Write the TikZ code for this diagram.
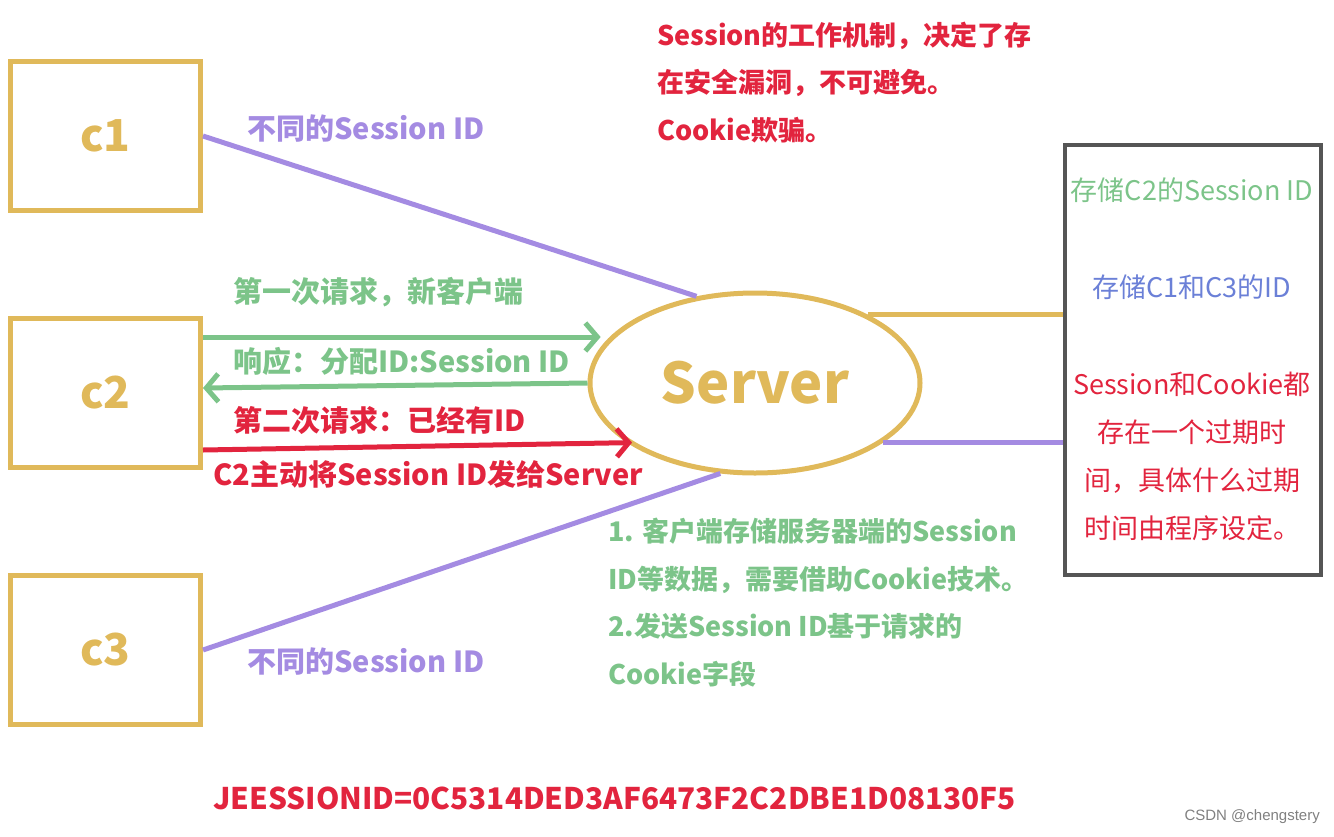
\documentclass[tikz,border=0pt]{standalone}
\usepackage{fontspec}
\setmainfont{Noto Sans CJK SC}
\newfontfamily\wmfont{Liberation Sans}
\usetikzlibrary{arrows.meta,shapes.geometric}
\definecolor{gold}{HTML}{E0B95A}
\definecolor{lilac}{HTML}{A48BE2}
\definecolor{leaf}{HTML}{7CC489}
\definecolor{crimson}{HTML}{E2243E}
\definecolor{steel}{HTML}{6B80D7}
\definecolor{frame}{HTML}{555555}

\begin{document}
\begin{tikzpicture}[x=1pt, y=-1pt,
  client/.style={rectangle, draw=gold, line width=5pt, minimum width=190pt, minimum height=149pt,
                 inner sep=0pt, text=gold, font=\fontsize{44}{50}\selectfont\bfseries},
  server/.style={ellipse, draw=gold, line width=5pt, minimum width=330pt, minimum height=180pt,
                 inner sep=0pt, text=gold, font=\fontsize{56}{64}\selectfont\bfseries},
  store/.style={rectangle, draw=frame, line width=4pt, minimum width=256pt, minimum height=430pt, inner sep=0pt},
  link/.style={line width=5pt},
  arrow/.style={line width=5pt, -{Straight Barb[length=12pt,width=28pt]}},
  label/.style={anchor=west, inner sep=0pt, font=\fontsize{29}{40}\selectfont\bfseries},
  block/.style={anchor=west, inner sep=0pt, align=left, font=\fontsize{27}{47.5}\selectfont\bfseries},
  note/.style={inner sep=0pt, align=center, font=\fontsize{27}{48}\selectfont},
]
  \useasboundingbox (0,0) rectangle (1334,836);

  \node[client] (c1) at (105.5,136) {c1};
  \node[client] (c2) at (105.5,393) {c2};
  \node[client] (c3) at (105.5,650) {c3};
  \node[server] (srv) at (755,383) {Server};
  \node[store] (store) at (1193,360) {};

  \draw[link, lilac] (c1.east) -- (srv.124);
  \draw[link, lilac] (c3.east) -- (srv.249);
  \draw[link, gold] (srv.31) -- (srv.31 -| store.west);
  \draw[link, lilac] (srv.-25) -- (srv.-25 -| store.west);

  \draw[arrow, leaf, shorten >=10pt] ([yshift=56pt]c2.east) -- ([yshift=56pt]c2.east -| srv.162);
  \draw[arrow, leaf] (srv.west) -- ([yshift=5pt]c2.east);
  \draw[arrow, crimson, shorten >=-5pt] ([yshift=-57pt]c2.east) -- (srv.205);

  \node[label, text=lilac] (l1) at (247,128) {不同的Session ID};
  \node[label, text=lilac] (l3) at (247,661) {不同的Session ID};
  \node[label, text=leaf] (req1) at (233,292) {第一次请求，新客户端};
  \node[label, text=leaf] (resp) at (233,361) {响应：分配ID:Session ID};
  \node[label, text=crimson] (req2) at (233,420) {第二次请求：已经有ID};
  \node[label, text=crimson] (send) at (213,474) {C2主动将Session ID发给Server};

  \node[block, text=crimson] (warn) at (657,82.5)
    {Session的工作机制，决定了存\\在安全漏洞，不可避免。\\Cookie欺骗。};
  \node[block, text=leaf] (tips) at (608,602.5)
    {1. 客户端存储服务器端的Session\\ID等数据，需要借助Cookie技术。\\2.发送Session ID基于请求的\\Cookie字段};

  \node[note, text=leaf] (s1) at (1192,190) {存储C2的Session ID};
  \node[note, text=steel] (s2) at (1192,287) {存储C1和C3的ID};
  \node[note, text=crimson] (s3) at (1192,456)
    {Session和Cookie都\\存在一个过期时\\间，具体什么过期\\时间由程序设定。};

  \node[label, text=crimson, font=\fontsize{29.8}{34}\selectfont\bfseries] (jid) at (213,798)
    {JEESSIONID=0C5314DED3AF6473F2C2DBE1D08130F5};
  \node[anchor=east, inner sep=0pt, text=black!50, font=\wmfont\fontsize{15}{18}\selectfont] (wm) at (1320,817)
    {CSDN @chengstery};
\end{tikzpicture}
\end{document}
